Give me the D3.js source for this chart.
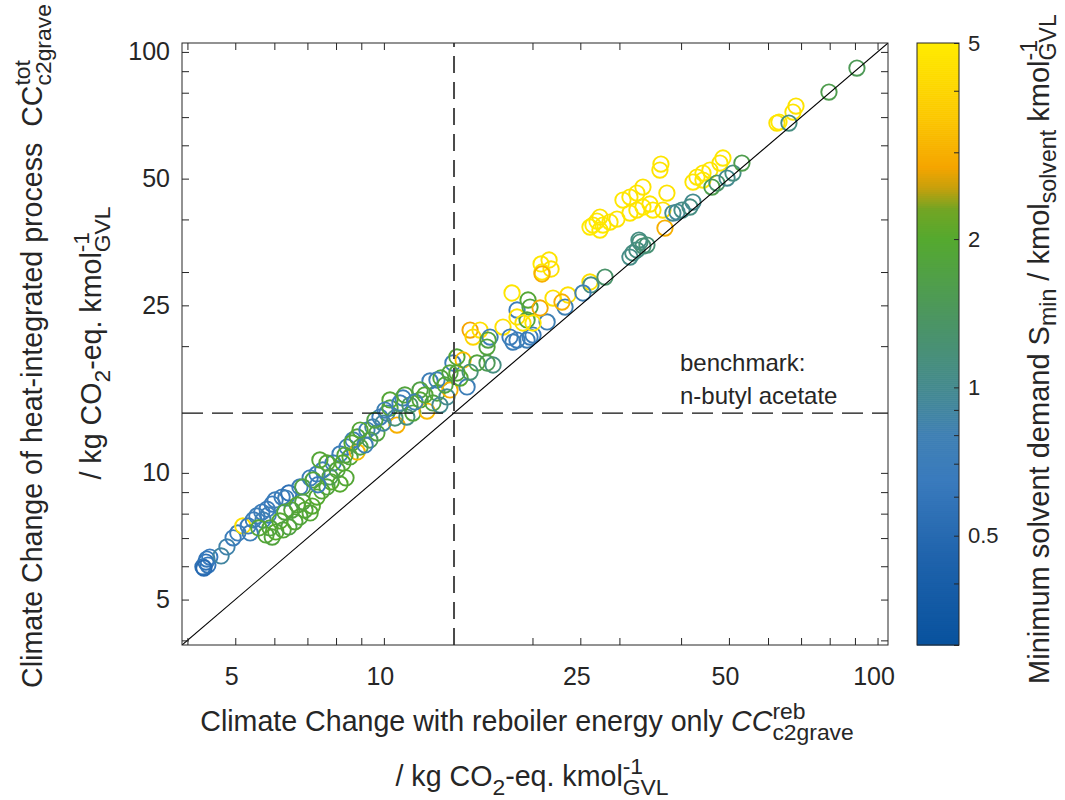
<!DOCTYPE html>
<html>
<head>
<meta charset="utf-8">
<script src="https://cdn.jsdelivr.net/npm/d3@7"></script>
<style>
  html, body { margin: 0; padding: 0; background: #fff; }
  svg { display: block; font-family: Arial, "Liberation Sans", Helvetica, sans-serif; }
  text { white-space: pre; fill: #262626; }
</style>
</head>
<body>
<svg id="chart" width="1065" height="800"></svg>
<script>
// Climate change per solvent candidate: reboiler-only vs heat-integrated process
const rebCC = [
  4.30, 4.36, 4.40, 4.38, 4.44, 4.32, 4.68, 4.81, 4.95, 5.06, 5.18, 5.31, 5.44, 5.53, 5.66, 5.80, 5.94, 6.02, 6.22, 6.42,
  6.33, 5.69, 5.83, 5.77, 5.94, 6.04, 6.25, 6.42, 6.60, 5.88, 6.16, 6.76, 6.92, 7.16, 6.85, 7.32, 7.49, 7.67, 7.82, 8.15,
  8.38, 7.09, 6.51, 6.76, 7.09, 7.32, 7.52, 7.89, 8.15, 8.42, 8.66, 8.04, 8.26, 8.54, 7.67, 8.83, 6.85, 7.19, 7.78, 8.62,
  8.83, 9.24, 9.50, 9.68, 9.82, 10.14, 10.29, 10.63, 10.78, 10.93, 10.29, 11.13, 11.45, 11.84, 12.23, 12.57, 12.81, 12.40, 13.05, 13.61,
  13.80, 14.06, 14.47, 14.74, 13.42, 8.95, 9.37, 9.96, 10.53, 11.29, 11.84, 14.06, 12.81, 15.44, 16.64, 16.18, 13.61, 14.95, 15.16, 15.66,
  16.41, 16.18, 16.26, 17.43, 18.01, 18.26, 18.61, 19.50, 19.77, 20.05, 18.61, 18.61, 19.50, 21.41, 18.18, 19.59, 19.77, 20.72, 22.01, 23.60,
  23.28, 22.95, 26.15, 26.27, 28.05, 25.31, 20.82, 21.61, 20.91, 21.81, 20.91, 19.13, 20.05, 27.02, 26.52, 27.40, 27.78, 28.71, 29.66, 27.40,
  26.15, 30.50, 31.51, 32.55, 33.48, 33.48, 34.59, 35.08, 32.55, 31.51, 36.24, 36.41, 37.44, 36.75, 37.10, 31.95, 33.02, 33.48, 32.86, 31.51,
  32.55, 34.11, 38.50, 39.24, 40.17, 41.69, 42.28, 43.08, 44.30, 45.76, 47.95, 48.62, 42.28, 44.30, 46.19, 47.28, 49.56, 50.95, 53.12, 62.54,
  63.15, 67.40, 68.36, 66.15, 79.73, 90.84,
  8.34, 9.16, 9.59, 10.05, 11.03, 11.56, 12.11, 12.99, 13.30, 14.27, 14.95, 7.35, 6.68, 6.30, 5.36, 5.58, 7.42, 8.95
];
const totCC = [
  5.98, 6.14, 6.04, 6.24, 6.31, 5.94, 6.35, 6.67, 7.01, 7.20, 7.48, 7.48, 7.73, 7.90, 8.07, 8.20, 8.43, 8.62, 8.76, 8.96,
  8.71, 7.73, 7.94, 7.12, 7.04, 7.24, 7.32, 7.44, 7.65, 7.40, 7.69, 7.86, 8.16, 8.34, 8.53, 8.76, 9.06, 9.26, 9.52, 9.41,
  9.73, 8.03, 8.16, 9.26, 9.73, 9.94, 10.16, 10.56, 11.09, 11.52, 11.97, 10.16, 10.56, 10.91, 10.56, 11.21, 9.26, 9.62, 9.78, 11.78,
  12.17, 12.64, 12.85, 12.43, 13.57, 13.87, 14.26, 12.99, 14.66, 15.06, 14.90, 13.57, 13.87, 14.90, 14.02, 14.66, 15.48, 16.53, 16.80, 15.74,
  18.24, 18.85, 18.54, 16.00, 15.15, 11.52, 11.97, 13.13, 13.50, 14.49, 15.74, 17.27, 16.62, 18.24, 18.04, 18.24, 17.27, 21.84, 21.02, 21.84,
  21.02, 19.90, 20.68, 22.20, 21.02, 20.45, 20.68, 20.68, 21.02, 21.25, 24.37, 23.46, 23.08, 22.83, 26.75, 25.74, 24.77, 24.64, 26.02, 26.46,
  24.77, 25.46, 28.41, 27.95, 29.19, 26.75, 31.35, 32.04, 30.00, 30.50, 29.68, 22.70, 22.70, 39.64, 38.78, 40.52, 38.78, 39.43, 40.08, 37.75,
  38.37, 44.47, 45.21, 46.20, 47.75, 42.81, 43.52, 42.11, 42.11, 41.42, 52.40, 54.15, 46.20, 42.11, 38.16, 33.29, 35.34, 34.58, 35.73, 32.56,
  33.84, 34.77, 41.42, 41.65, 42.11, 42.81, 43.99, 50.43, 51.55, 52.40, 54.45, 55.97, 49.07, 49.61, 47.75, 48.80, 50.15, 51.55, 54.45, 67.76,
  68.13, 71.96, 74.37, 67.76, 80.29, 91.55,
  11.02, 11.65, 13.35, 14.10, 15.32, 14.74, 15.32, 14.49, 16.17, 16.80, 17.36, 9.37, 8.39, 8.07, 7.20, 7.40, 10.73, 12.64
];
const solventDemand = [
  0.55, 0.55, 0.6, 0.6, 0.65, 0.5, 0.9, 0.85, 0.7, 0.7, 4.5, 0.7, 0.7, 0.75, 0.7, 0.7, 0.65, 0.7, 0.7, 0.55,
  0.75, 0.8, 0.75, 1.9, 1.8, 2.0, 1.9, 1.7, 1.9, 1.8, 2.0, 1.8, 1.9, 2.0, 1.7, 2.0, 1.9, 1.8, 2.0, 2.0,
  1.9, 1.9, 1.8, 0.7, 0.75, 0.7, 0.8, 0.7, 0.75, 0.7, 0.8, 1.8, 2.0, 1.9, 1.9, 3.2, 1.7, 1.8, 1.6, 1.9,
  1.8, 0.8, 0.9, 1.8, 0.7, 0.75, 1.8, 3.0, 0.7, 0.7, 1.9, 1.1, 1.8, 1.9, 3.2, 1.7, 1.8, 0.75, 1.8, 3.0,
  0.75, 1.9, 3.3, 0.75, 1.0, 1.7, 1.5, 0.9, 1.2, 1.3, 1.7, 1.9, 0.8, 1.8, 1.1, 1.5, 1.8, 2.8, 4.0, 4.5,
  0.75, 1.8, 1.7, 4.5, 0.7, 0.75, 0.7, 0.75, 0.7, 0.7, 0.7, 4.5, 1.8, 0.8, 4.7, 1.9, 1.8, 2.9, 4.5, 4.5,
  0.8, 3.0, 4.5, 1.1, 1.3, 0.8, 4.8, 4.6, 4.8, 4.5, 3.0, 4.6, 4.8, 4.8, 4.8, 4.6, 4.9, 4.7, 4.6, 4.8,
  4.9, 4.8, 4.7, 4.8, 4.6, 4.9, 4.7, 4.8, 4.6, 4.7, 4.6, 4.7, 4.6, 4.5, 3.0, 1.1, 1.15, 1.2, 1.1, 1.05,
  1.1, 1.2, 1.0, 0.95, 1.05, 1.1, 1.0, 4.6, 4.8, 4.7, 4.6, 4.8, 4.7, 4.8, 1.6, 1.3, 1.0, 1.1, 1.6, 4.6,
  4.8, 4.7, 4.6, 1.1, 1.6, 1.5,
  1.8, 0.8, 1.7, 0.8, 1.8, 0.8, 1.9, 1.0, 1.8, 1.9, 1.2, 0.7, 1.9, 1.8, 0.75, 1.9, 1.9, 1.9
];

// Benchmark solvent (n-butyl acetate) in both coordinates
const benchmarkCC = 13.87;

// Axis tick values
const axisLimits = [3.9, 105];
const majorTicks = [5, 10, 25, 50, 100];
const minorTicks = [4, 6, 7, 8, 9, 20, 30, 40, 60, 70, 80, 90];
const cbarLimits = [0.3, 5];
const cbarMajorTicks = [0.5, 1, 2, 5];
const cbarMinorTicks = [0.3, 0.4, 0.6, 0.7, 0.8, 0.9, 3, 4];

// Colour map for the solvent demand (log scale)
const cmapStops = [0.3, 0.45, 0.65, 0.8, 1.0, 1.4, 2.0, 2.3, 2.55, 2.8, 3.6, 5.0];
const cmapColors = ['#08529e', '#1f63ac', '#3a7bbd', '#3f80b4', '#448a8e', '#4c9660',
                    '#55a92f', '#72a524', '#c8a00c', '#f5a500', '#fcca00', '#ffeb00'];

const svg = d3.select('#chart');
const plot = { left: 182, right: 888, top: 43, bottom: 645 };
const cbar = { left: 917, right: 959, top: 43, bottom: 645 };
const ink = '#262626';

const x = d3.scaleLog().domain(axisLimits).range([plot.left, plot.right]);
const y = d3.scaleLog().domain(axisLimits).range([plot.bottom, plot.top]);
const color = d3.scaleLog().domain(cmapStops).range(cmapColors).interpolate(d3.interpolateRgb).clamp(true);

const points = rebCC.map((v, i) => ({ reb: v, tot: totCC[i], s: solventDemand[i] }));

// Clip for plot area
svg.append('defs').append('clipPath').attr('id', 'plotClip')
  .append('rect').attr('x', plot.left).attr('y', plot.top)
  .attr('width', plot.right - plot.left).attr('height', plot.bottom - plot.top);

const area = svg.append('g').attr('clip-path', 'url(#plotClip)');

// Scatter
area.append('g').selectAll('circle').data(points).join('circle')
  .attr('cx', d => x(d.reb))
  .attr('cy', d => y(d.tot))
  .attr('r', 7.7)
  .attr('fill', 'none')
  .attr('stroke', d => color(d.s))
  .attr('stroke-width', 1.9);

// Parity line
area.append('line')
  .attr('x1', x(axisLimits[0])).attr('y1', y(axisLimits[0]))
  .attr('x2', x(axisLimits[1])).attr('y2', y(axisLimits[1]))
  .attr('stroke', '#000').attr('stroke-width', 1.1);

// Benchmark lines
area.append('line')
  .attr('x1', plot.left).attr('x2', plot.right)
  .attr('y1', y(benchmarkCC)).attr('y2', y(benchmarkCC))
  .attr('stroke', '#111').attr('stroke-width', 1.3).attr('stroke-dasharray', '21,9');
area.append('line')
  .attr('x1', x(benchmarkCC)).attr('x2', x(benchmarkCC))
  .attr('y1', plot.bottom).attr('y2', plot.top)
  .attr('stroke', '#4a4a4a').attr('stroke-width', 2).attr('stroke-dasharray', '17,9');

svg.append('text').attr('x', 680).attr('y', 371).attr('font-size', 24).text('benchmark:');
svg.append('text').attr('x', 680).attr('y', 404).attr('font-size', 24).text('n-butyl acetate');

// Axes (ticks pointing inwards on all four sides)
function styleAxis(g) {
  g.select('.domain').remove();
  g.selectAll('line').attr('stroke', ink);
  g.selectAll('text').attr('fill', ink).attr('font-size', 25).attr('font-family', null);
}
const tickLen = 7;
svg.append('g').attr('transform', `translate(0,${plot.bottom})`)
  .call(d3.axisBottom(x).tickValues(majorTicks).tickFormat(d3.format('d')).tickSizeInner(-tickLen).tickSizeOuter(0).tickPadding(22))
  .call(styleAxis)
  .call(g => g.selectAll('text').attr('dx', -4));
svg.append('g').attr('transform', `translate(0,${plot.bottom})`)
  .call(d3.axisBottom(x).tickValues(minorTicks).tickFormat('').tickSizeInner(-tickLen).tickSizeOuter(0))
  .call(styleAxis);
svg.append('g').attr('transform', `translate(0,${plot.top})`)
  .call(d3.axisTop(x).tickValues(majorTicks.concat(minorTicks)).tickFormat('').tickSizeInner(-tickLen).tickSizeOuter(0))
  .call(styleAxis);
svg.append('g').attr('transform', `translate(${plot.left},0)`)
  .call(d3.axisLeft(y).tickValues(majorTicks).tickFormat(d3.format('d')).tickSizeInner(-tickLen).tickSizeOuter(0).tickPadding(12))
  .call(styleAxis);
svg.append('g').attr('transform', `translate(${plot.left},0)`)
  .call(d3.axisLeft(y).tickValues(minorTicks).tickFormat('').tickSizeInner(-tickLen).tickSizeOuter(0))
  .call(styleAxis);
svg.append('g').attr('transform', `translate(${plot.right},0)`)
  .call(d3.axisRight(y).tickValues(majorTicks.concat(minorTicks)).tickFormat('').tickSizeInner(-tickLen).tickSizeOuter(0))
  .call(styleAxis);

svg.append('rect')
  .attr('x', plot.left).attr('y', plot.top)
  .attr('width', plot.right - plot.left).attr('height', plot.bottom - plot.top)
  .attr('fill', 'none').attr('stroke', ink).attr('stroke-width', 1);

// Colour bar
const cb = d3.scaleLog().domain(cbarLimits).range([cbar.bottom, cbar.top]);
const nSlices = 300;
const sliceH = (cbar.bottom - cbar.top) / nSlices;
svg.append('g').selectAll('rect').data(d3.range(nSlices)).join('rect')
  .attr('x', cbar.left)
  .attr('y', i => cbar.bottom - (i + 1) * sliceH)
  .attr('width', cbar.right - cbar.left)
  .attr('height', sliceH + 0.6)
  .attr('fill', i => color(cb.invert(cbar.bottom - (i + 0.5) * sliceH)));
svg.append('g').attr('transform', `translate(${cbar.right},0)`)
  .call(d3.axisRight(cb).tickValues(cbarMajorTicks).tickFormat(d3.format('')).tickSizeInner(-5).tickSizeOuter(0).tickPadding(9))
  .call(styleAxis)
  .call(g => g.selectAll('text').attr('font-size', 22));
svg.append('g').attr('transform', `translate(${cbar.right},0)`)
  .call(d3.axisRight(cb).tickValues(cbarMinorTicks).tickFormat('').tickSizeInner(-5).tickSizeOuter(0))
  .call(styleAxis);
svg.append('rect')
  .attr('x', cbar.left).attr('y', cbar.top)
  .attr('width', cbar.right - cbar.left).attr('height', cbar.bottom - cbar.top)
  .attr('fill', 'none').attr('stroke', ink).attr('stroke-width', 1);

// Rich text labels with stacked super/subscripts
function richLine(parent, parts, size, subShift) {
  const g = parent.append('g');
  let cursor = 0, scriptStart = 0;
  parts.forEach(p => {
    const small = p.pos === 'sup' || p.pos === 'sub';
    const fs = small ? size * 0.8 : size;
    const dy = p.pos === 'sup' ? -size * 0.42 : p.pos === 'sub' ? size * (subShift || 0.3) : 0;
    const x0 = p.stack ? scriptStart : cursor;
    const t = g.append('text')
      .attr('x', x0).attr('y', dy)
      .attr('font-size', fs)
      .attr('font-style', p.italic ? 'italic' : null)
      .text(p.t);
    const w = t.node().getComputedTextLength();
    if (p.stack) cursor = Math.max(cursor, x0 + w);
    else { scriptStart = x0; cursor = x0 + w; }
  });
  return { g, width: cursor };
}
function horizontalLabel(parts, size, cx, baseline) {
  const r = richLine(svg, parts, size);
  r.g.attr('transform', `translate(${cx - r.width / 2},${baseline})`);
}
function verticalLabel(parts, size, baselineX, cy, subShift) {
  const r = richLine(svg, parts, size, subShift);
  r.g.attr('transform', `translate(${baselineX},${cy}) rotate(-90) translate(${-r.width / 2},0)`);
}

const unitParts = [
  { t: '/ kg CO' }, { t: '2', pos: 'sub' }, { t: '-eq. kmol' },
  { t: '-1', pos: 'sup' }, { t: 'GVL', pos: 'sub', stack: true }
];

horizontalLabel([
  { t: 'Climate Change with reboiler energy only ' }, { t: 'CC', italic: true },
  { t: 'reb', pos: 'sup' }, { t: 'c2grave', pos: 'sub', stack: true }
], 28.6, 527, 731);
horizontalLabel(unitParts, 28.6, 532, 786);

verticalLabel([
  { t: 'Climate Change of heat-integrated process  CC' },
  { t: 'tot', pos: 'sup' }, { t: 'c2grave', pos: 'sub', stack: true }
], 28.6, 42, 346);
verticalLabel(unitParts, 28.6, 101, 343);

verticalLabel([
  { t: 'Minimum solvent demand S' }, { t: 'min', pos: 'sub' },
  { t: ' / kmol' }, { t: 'solvent', pos: 'sub' }, { t: ' kmol' },
  { t: '-1', pos: 'sup' }, { t: 'GVL', pos: 'sub', stack: true }
], 29, 1049, 349, 0.25);
</script>
</body>
</html>
